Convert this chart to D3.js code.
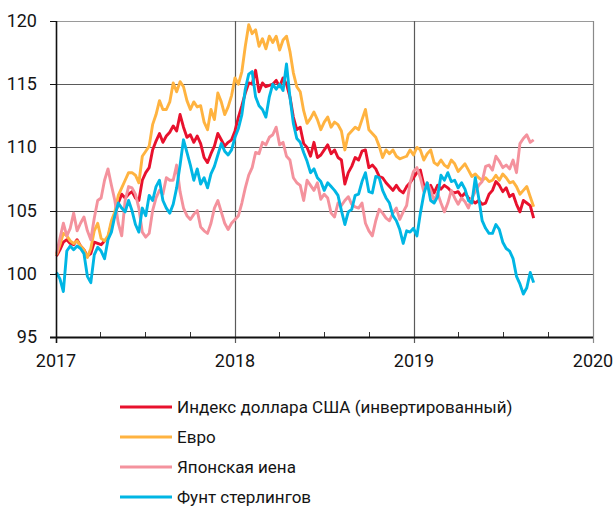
<!DOCTYPE html>
<html>
<head>
<meta charset="utf-8">
<script src="https://cdn.jsdelivr.net/npm/d3@7/dist/d3.min.js"></script>
<style>
  html, body { margin: 0; padding: 0; background: #fff; }
  svg { display: block; }
  text { font-family: Roboto, "Noto Sans", sans-serif; fill: #141414; }
</style>
</head>
<body>
<svg id="chart" width="616" height="507"></svg>
<script>
// ---- data (weekly observations starting 2017-01-02) ----
const startDate = "2017-01-02";
const yTicks = [95, 100, 105, 110, 115, 120];
const xTickYears = ["2017", "2018", "2019", "2020"];
const seriesNames = ["Индекс доллара США (инвертированный)", "Евро", "Японская иена", "Фунт стерлингов"];
const seriesColors = ["#e8112d", "#ffb340", "#f4929d", "#00b6e4"];

const usdIndex = [
101.4,101.9,102.5,102.7,102.4,102.3,102.7,102.2,101.9,101.4,
101.6,102.5,102.4,102.3,102.6,102.8,104.0,104.6,105.6,106.3,
106.0,106.3,106.5,106.0,105.8,107.4,108.0,108.4,109.8,110.5,
111.1,110.4,110.9,111.2,111.7,111.3,112.6,111.6,110.8,111.0,
110.4,110.9,110.3,109.2,108.8,109.5,110.1,111.1,110.6,110.1,
110.4,110.6,111.3,112.4,113.3,114.3,115.1,115.0,116.1,114.4,
115.1,114.8,114.9,115.0,115.3,114.8,115.5,115.0,114.0,112.4,
111.4,111.6,110.3,110.0,109.3,110.4,109.2,109.4,109.8,110.2,
109.5,109.8,109.2,109.0,107.1,108.0,108.5,109.2,109.0,109.7,
109.8,108.4,108.6,108.3,107.7,107.6,107.2,106.9,106.6,107.0,
106.6,106.4,106.9,107.2,107.6,108.0,108.2,107.0,106.8,107.0,
106.4,107.0,106.7,107.0,106.8,106.5,106.4,106.5,106.1,106.4,
106.0,105.8,105.6,105.8,105.5,105.6,106.3,106.6,107.3,107.0,
106.5,106.8,106.1,106.3,105.5,104.9,105.8,105.6,105.4,104.4];

const euro = [
101.5,102.3,103.2,103.0,102.6,102.4,102.6,102.2,101.9,101.3,
102.0,103.4,104.0,102.8,102.6,103.0,104.2,104.9,106.2,106.8,
107.4,108.0,108.0,107.8,107.2,109.3,109.7,110.1,111.8,112.6,
113.7,113.0,113.0,113.6,115.1,114.4,115.2,114.8,113.7,113.0,
113.6,113.2,113.3,112.0,111.4,113.0,112.2,114.3,113.6,112.6,
113.2,114.1,115.5,115.0,116.0,118.0,119.7,119.0,119.3,118.0,
118.6,117.8,118.8,118.3,118.8,117.7,118.5,118.8,117.6,115.9,
114.8,114.4,112.9,111.9,112.3,112.8,112.2,111.4,112.0,112.4,
111.6,112.0,111.8,111.3,109.8,111.0,111.3,111.6,111.4,112.2,
113.0,111.4,111.1,110.8,110.1,109.2,109.8,109.5,109.8,109.3,
109.1,109.2,109.3,109.8,109.4,110.0,109.8,109.0,109.5,109.8,
108.8,108.6,109.0,108.6,108.4,109.0,108.7,108.1,108.4,108.7,
108.2,107.7,107.9,107.6,107.4,107.6,107.3,107.4,107.8,107.4,
107.9,107.6,107.2,107.3,106.9,106.3,106.6,106.9,106.1,105.3];

const yen = [
101.6,102.8,104.0,103.0,103.6,104.8,103.4,104.0,104.5,103.4,
102.7,104.4,105.8,106.0,107.4,108.3,107.0,105.8,104.0,103.0,
105.8,106.9,106.8,106.3,105.2,103.3,102.9,103.2,105.0,106.0,
106.6,106.3,107.6,107.4,107.4,108.6,106.5,105.2,104.6,104.3,
104.7,105.0,103.7,103.4,103.2,104.0,105.2,105.8,104.9,104.0,
103.5,104.0,104.3,104.6,105.6,106.8,107.8,108.4,109.6,109.5,
110.4,110.2,110.8,111.0,111.6,110.2,110.4,109.3,109.0,107.6,
107.2,107.0,105.8,107.4,107.0,106.6,107.2,105.9,106.3,106.0,
104.8,104.5,105.6,105.4,105.8,106.1,105.5,105.3,105.2,105.6,
104.0,103.4,103.0,104.2,105.1,104.8,104.4,104.2,104.8,105.2,
104.3,104.9,105.4,107.2,108.1,108.4,107.6,106.5,107.2,106.6,
105.8,106.4,105.6,104.9,105.6,106.6,106.0,105.5,106.0,105.7,
105.2,106.0,106.5,107.0,107.3,108.5,108.6,108.2,109.3,108.9,
108.4,108.6,108.3,109.0,108.0,110.3,110.7,111.0,110.4,110.6];

const pound = [
100.1,99.6,98.6,101.8,102.2,101.9,102.2,102.0,101.6,99.8,
99.3,101.5,102.1,101.8,101.2,102.7,103.3,104.6,105.6,105.2,
104.9,105.8,105.0,103.9,103.3,105.2,104.6,106.2,105.8,106.9,
107.4,105.8,105.2,104.8,105.5,106.8,108.6,110.6,109.6,108.6,
107.4,108.3,107.1,107.6,106.8,107.9,108.5,109.4,110.3,109.7,
109.4,109.8,110.8,111.5,112.6,114.6,115.8,116.0,114.0,113.3,
113.0,112.4,114.0,115.0,114.6,115.0,114.5,116.6,114.0,111.9,
110.7,110.4,109.6,108.9,108.0,108.3,107.6,107.3,106.6,107.2,
106.9,106.6,106.2,105.0,103.9,104.9,105.1,106.2,106.3,107.3,
108.0,106.5,106.4,107.7,107.6,106.6,106.0,105.6,104.6,104.2,
103.5,102.4,103.4,103.3,103.6,103.0,104.8,106.3,107.2,105.8,
105.6,106.1,107.8,107.4,108.0,107.3,107.4,106.8,107.2,106.7,
105.8,105.6,107.6,106.0,104.2,103.6,103.2,103.2,103.9,103.5,
102.5,102.0,101.8,101.2,99.8,99.2,98.4,98.9,100.1,99.3];

// ---- layout ----
const svg = d3.select("#chart");
const plotL = 56, plotR = 593, plotT = 21, plotB = 337;

const parse = d3.timeParse("%Y-%m-%d");
const dates = d3.range(usdIndex.length).map(i => d3.timeDay.offset(parse(startDate), 7 * i));

const x = d3.scaleTime()
  .domain([new Date(+xTickYears[0], 0, 1), new Date(+xTickYears[xTickYears.length - 1], 0, 1)])
  .range([plotL, plotR]);
const y = d3.scaleLinear().domain([yTicks[0], yTicks[yTicks.length - 1]]).range([plotB, plotT]);

const yearDates = xTickYears.map(yr => new Date(+yr, 0, 1));
const quarterDates = d3.timeMonth.every(3).range(yearDates[0], yearDates[yearDates.length - 1])
  .filter(d => d.getMonth() !== 0);

// horizontal gridlines
svg.append("g").selectAll("line").data(yTicks.slice(1)).join("line")
  .attr("x1", plotL).attr("x2", plotR)
  .attr("y1", d => Math.round(y(d)) + 0.5).attr("y2", d => Math.round(y(d)) + 0.5)
  .attr("stroke", d => d === 120 ? "#9a9a9a" : "#5a5a5a").attr("stroke-width", 1);

// vertical year gridlines
svg.append("g").selectAll("line").data(yearDates.slice(1)).join("line")
  .attr("x1", d => Math.round(x(d)) + 0.5).attr("x2", d => Math.round(x(d)) + 0.5)
  .attr("y1", plotT).attr("y2", plotB + 6)
  .attr("stroke", (d, i) => i === yearDates.length - 2 ? "#8a8a8a" : "#5a5a5a").attr("stroke-width", 1.2);

// quarter ticks
svg.append("g").selectAll("line").data(quarterDates).join("line")
  .attr("x1", d => Math.round(x(d)) + 0.5).attr("x2", d => Math.round(x(d)) + 0.5)
  .attr("y1", plotB - 5).attr("y2", plotB)
  .attr("stroke", "#333").attr("stroke-width", 1);

// y ticks
svg.append("g").selectAll("line").data(yTicks).join("line")
  .attr("x1", plotL - 6).attr("x2", plotL)
  .attr("y1", d => Math.round(y(d)) + 0.5).attr("y2", d => Math.round(y(d)) + 0.5)
  .attr("stroke", "#111").attr("stroke-width", 1);

// series lines
const seriesData = [usdIndex, euro, yen, pound];
const line = d3.line().x((d, i) => x(dates[i])).y(d => y(d)).curve(d3.curveLinear);
svg.append("g").selectAll("path").data(seriesData).join("path")
  .attr("d", d => line(d))
  .attr("fill", "none")
  .attr("stroke", (d, i) => seriesColors[i])
  .attr("stroke-width", 2.9)
  .attr("stroke-linejoin", "round");

// axes lines
svg.append("line").attr("x1", plotL + 0.5).attr("x2", plotL + 0.5).attr("y1", plotT).attr("y2", plotB + 6)
  .attr("stroke", "#111").attr("stroke-width", 1.6);
svg.append("line").attr("x1", plotL - 6).attr("x2", plotR).attr("y1", plotB + 0.5).attr("y2", plotB + 0.5)
  .attr("stroke", "#111").attr("stroke-width", 2);

// y labels
svg.append("g").selectAll("text").data(yTicks).join("text")
  .attr("x", 37).attr("y", d => y(d) + 6)
  .attr("text-anchor", "end").attr("font-size", 18)
  .text(d => d);

// x labels
svg.append("g").selectAll("text").data(yearDates).join("text")
  .attr("x", d => x(d)).attr("y", 367)
  .attr("text-anchor", "middle").attr("font-size", 18)
  .text((d, i) => xTickYears[i]);

// legend
const legendRowY = [407, 437, 467, 497];
const lg = svg.append("g").selectAll("g").data(seriesNames).join("g")
  .attr("transform", (d, i) => `translate(0,${legendRowY[i]})`);
lg.append("line").attr("x1", 120).attr("x2", 172).attr("y1", 0).attr("y2", 0)
  .attr("stroke", (d, i) => seriesColors[i]).attr("stroke-width", 2.8);
lg.append("text").attr("x", 177).attr("y", 6).attr("font-size", 17).text(d => d);
</script>
</body>
</html>
